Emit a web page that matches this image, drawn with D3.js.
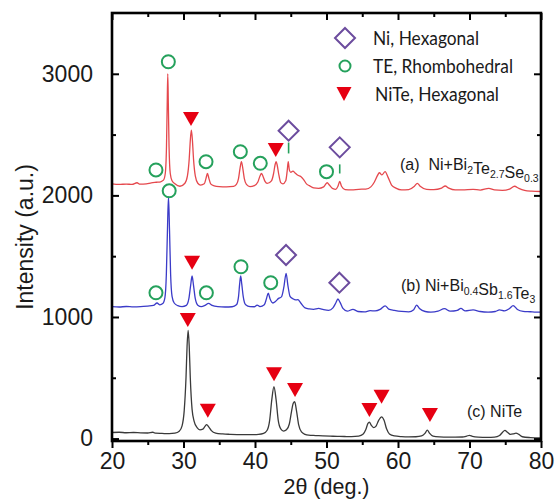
<!DOCTYPE html>
<html>
<head>
<meta charset="utf-8">
<script src="https://cdn.jsdelivr.net/npm/d3@7"></script>
<style>
  html, body { margin: 0; padding: 0; background: #fff; }
  svg { display: block; }
  text { font-family: Arial, "Liberation Sans", sans-serif; fill: #1a1a1a; }
  .legend text { font-family: Lato, "Open Sans", sans-serif; }
</style>
</head>
<body>
<svg id="chart" width="556" height="504"></svg>
<script>
// XRD patterns, intensity (a.u.) vs 2θ (deg.)
const curveA = [ // (a) Ni+Bi2Te2.7Se0.3, red
  [20,2095],[21,2090],[22,2093],[22.8,2090],[23.5,2104],[23.9,2092],[24.8,2095],[25.5,2103],[26.2,2108],[26.8,2112],
  [27.2,2125],[27.45,2180],[27.62,2400],[27.72,2750],[27.8,3000],[27.88,2750],[27.98,2400],[28.15,2180],[28.4,2120],[28.8,2095],
  [29.5,2075],[30.2,2100],[30.55,2160],[30.8,2300],[30.95,2450],[31.1,2537],[31.25,2450],[31.4,2300],[31.65,2160],[32.0,2100],
  [32.4,2085],[32.9,2095],[33.15,2140],[33.35,2181],[33.55,2140],[33.8,2095],[34.3,2078],[35,2072],[36,2070],[37,2074],
  [37.4,2090],[37.7,2140],[37.9,2220],[38.1,2277],[38.3,2220],[38.5,2140],[38.8,2090],[39.3,2072],[39.9,2080],[40.4,2110],
  [40.7,2160],[40.9,2181],[41.1,2160],[41.4,2115],[41.7,2098],[42.3,2120],[42.6,2180],[42.8,2250],[42.95,2277],[43.1,2250],
  [43.3,2180],[43.6,2105],[43.9,2095],[44.3,2120],[44.5,2200],[44.65,2277],[44.8,2210],[45.0,2190],[45.3,2200],[45.6,2185],
  [46.0,2165],[46.4,2155],[46.8,2130],[47.2,2095],[47.6,2080],[48.2,2062],[48.9,2058],[49.6,2070],[49.8,2085],[50.1,2104],
  [50.4,2085],[50.9,2055],[51.3,2050],[51.6,2075],[51.85,2115],[52.1,2075],[52.6,2048],[53.5,2046],[54.5,2050],[55.5,2052],
  [56.2,2070],[56.7,2110],[57.1,2160],[57.4,2186],[57.75,2168],[58.2,2196],[58.6,2150],[59.1,2085],[59.7,2060],[60.5,2045],
  [61.5,2048],[62.3,2075],[62.7,2099],[63.1,2075],[64.0,2050],[65.0,2048],[66.1,2060],[66.6,2077],[67.1,2060],[68.0,2045],
  [69.0,2045],[70.5,2050],[71.5,2044],[72.7,2058],[73.5,2045],[74.6,2042],[75.6,2052],[76.3,2075],[76.9,2058],[77.7,2042],
  [78.7,2035],[80,2032]
];
const curveB = [ // (b) Ni+Bi0.4Sb1.6Te3, blue
  [20,1085],[21,1082],[22,1086],[23,1083],[24,1085],[25,1090],[25.8,1095],[26.3,1115],[26.7,1100],[27.1,1110],
  [27.4,1160],[27.6,1350],[27.75,1700],[27.9,1990],[28.05,1700],[28.2,1350],[28.4,1170],[28.7,1115],[29.2,1093],[29.8,1085],
  [30.4,1095],[30.75,1150],[31.0,1260],[31.2,1337],[31.4,1260],[31.65,1150],[32.0,1097],[32.5,1085],[33.0,1095],[33.5,1112],
  [34.0,1095],[34.8,1085],[35.8,1082],[36.8,1084],[37.4,1100],[37.7,1170],[37.85,1270],[38.0,1337],[38.15,1270],[38.35,1170],
  [38.7,1100],[39.3,1085],[39.9,1084],[40.3,1098],[40.7,1085],[41.3,1100],[41.6,1150],[41.85,1195],[42.1,1150],[42.5,1115],
  [42.9,1130],[43.3,1153],[43.7,1165],[44.05,1250],[44.35,1359],[44.6,1260],[44.9,1170],[45.3,1150],[45.7,1140],[46.0,1142],
  [46.4,1115],[47.0,1075],[47.6,1066],[48.2,1063],[48.9,1070],[49.6,1060],[50.3,1055],[50.9,1075],[51.3,1115],[51.6,1148],
  [51.9,1120],[52.3,1070],[52.9,1048],[53.7,1063],[54.4,1045],[55.3,1042],[56.1,1052],[56.8,1050],[57.5,1062],[58.2,1092],
  [58.7,1065],[59.5,1055],[60.5,1046],[61.5,1042],[62.2,1060],[62.6,1098],[63.0,1070],[63.8,1045],[64.6,1040],[65.6,1048],
  [66.5,1068],[67.3,1048],[68.3,1055],[68.8,1070],[69.4,1050],[70.5,1058],[71.5,1045],[72.6,1040],[73.6,1045],[74.2,1058],
  [74.9,1050],[75.6,1070],[76.1,1093],[76.7,1062],[77.5,1046],[78.5,1043],[79.3,1040],[80,1040]
];
const curveC = [ // (c) NiTe, black
  [20,50],[21,52],[22,48],[23,50],[24,47],[25,46],[25.7,52],[26.1,44],[27,42],[28,40],
  [28.8,44],[29.4,60],[29.8,105],[30.1,230],[30.35,500],[30.5,760],[30.65,890],[30.8,760],[30.95,500],[31.2,240],
  [31.5,140],[31.9,90],[32.3,72],[32.7,78],[33.0,100],[33.25,115],[33.5,98],[33.9,65],[34.5,45],[35.5,38],
  [36.5,35],[37.5,33],[38.5,32],[39.5,32],[40.5,34],[41.2,42],[41.7,68],[42.05,150],[42.35,320],[42.65,426],
  [42.95,320],[43.25,150],[43.6,80],[44.0,62],[44.4,72],[44.8,120],[45.1,220],[45.35,290],[45.55,303],[45.8,230],
  [46.1,115],[46.5,55],[47.0,35],[47.5,28],[48.5,25],[49.5,22],[50.5,20],[51.5,18],[52.5,17],[53.5,16],
  [54.5,20],[55.1,35],[55.5,75],[55.8,125],[56.0,135],[56.25,110],[56.6,90],[56.9,100],[57.3,150],[57.7,178],
  [58.05,150],[58.4,80],[58.8,38],[59.5,22],[60.5,16],[61.5,14],[62.5,15],[63.3,22],[63.8,45],[64.1,70],
  [64.4,45],[64.9,20],[65.8,14],[67,12],[68,12],[69,13],[69.6,20],[70.0,27],[70.4,19],[71.2,12],
  [72.5,10],[73.5,12],[74.2,25],[74.6,50],[74.95,68],[75.3,52],[75.7,35],[76.1,38],[76.5,45],[76.9,35],
  [77.4,15],[78.5,8],[79.3,6],[80,5]
];

// Phase markers [2θ, intensity]
const teMarks   = [[26.15,2209],[27.88,3099],[33.15,2277],[37.95,2359],[40.74,2264],[50.0,2195],
                   [26.15,1199],[28.0,2038],[33.2,1199],[38.04,1413],[42.2,1282]];
const niMarks   = [[44.7,2532],[51.85,2395],[44.34,1510],[51.8,1282]];
const niteMarks = [[31.05,2628],[42.9,2373],[31.2,1446],
                   [30.6,975],[33.4,229],[42.66,528],[45.6,399],[56.0,235],[57.7,344],[64.47,194]];
const niBars    = [[44.7,2345,2435],[51.85,2180,2255]]; // [2θ, from, to]

const xMajor = [20,30,40,50,60,70,80];
const xMinor = [25,35,45,55,65,75];
const yMajor = [0,1000,2000,3000];
const yMinor = [500,1500,2500];

const legendItems = [
  {kind:"diamond",  label:"Ni, Hexagonal"},
  {kind:"circle",   label:"TE, Rhombohedral"},
  {kind:"triangle", label:"NiTe, Hexagonal"}
];

const colors = {a:"#e5484d", b:"#3b3bc8", c:"#3a3a3a", te:"#25a15c", ni:"#6c4c9e", nite:"#e60012"};

const svg = d3.select("#chart");
const L = 112, R = 541, T = 13, B = 441;
const x = d3.scaleLinear().domain([20,80]).range([L,R]);
const y = d3.scaleLinear().domain([-20,3500]).range([B,T]);

// curves
const line = d3.line().x(d => x(d[0])).y(d => y(d[1])).curve(d3.curveMonotoneX);
[[curveA,colors.a],[curveB,colors.b],[curveC,colors.c]].forEach(([data,col]) => {
  svg.append("path").datum(data).attr("d", line)
    .attr("fill","none").attr("stroke",col).attr("stroke-width",1.3).attr("stroke-linejoin","round");
});

// axes
function styleAxis(g){
  g.select(".domain").remove();
  g.selectAll(".tick line").attr("stroke","#000").attr("stroke-width",2);
  g.selectAll(".tick text").attr("font-size",23).attr("fill","#1a1a1a")
    .attr("font-family","Arial, 'Liberation Sans', sans-serif");
}
svg.append("g").attr("transform",`translate(0,${B})`)
  .call(d3.axisBottom(x).tickValues(xMajor).tickSize(7).tickPadding(5).tickFormat(d3.format("d")))
  .call(styleAxis);
svg.append("g").attr("transform",`translate(0,${B})`)
  .call(d3.axisBottom(x).tickValues(xMinor).tickSize(4).tickFormat(""))
  .call(styleAxis);
svg.append("g").attr("transform",`translate(0,${T})`)
  .call(d3.axisTop(x).tickValues(xMajor).tickSize(-7).tickFormat(""))
  .call(styleAxis);
svg.append("g").attr("transform",`translate(0,${T})`)
  .call(d3.axisTop(x).tickValues(xMinor).tickSize(-4).tickFormat(""))
  .call(styleAxis);
svg.append("g").attr("transform",`translate(${L},0)`)
  .call(d3.axisLeft(y).tickValues(yMajor).tickSize(-7).tickPadding(19).tickFormat(d3.format("d")))
  .call(styleAxis);
svg.append("g").attr("transform",`translate(${L},0)`)
  .call(d3.axisLeft(y).tickValues(yMinor).tickSize(-4).tickFormat(""))
  .call(styleAxis);
svg.append("g").attr("transform",`translate(${R},0)`)
  .call(d3.axisRight(y).tickValues(yMajor).tickSize(-7).tickFormat(""))
  .call(styleAxis);
svg.append("g").attr("transform",`translate(${R},0)`)
  .call(d3.axisRight(y).tickValues(yMinor).tickSize(-4).tickFormat(""))
  .call(styleAxis);

svg.append("rect").attr("x",L).attr("y",T).attr("width",R-L).attr("height",B-T)
  .attr("fill","none").attr("stroke","#000").attr("stroke-width",2.6);

// axis titles
svg.append("text").attr("x",(L+R)/2).attr("y",494).attr("text-anchor","middle")
  .attr("font-size",21.5).text("2θ (deg.)");
svg.append("text").attr("transform","translate(33,237) rotate(-90)").attr("text-anchor","middle")
  .attr("font-size",23).text("Intensity (a.u.)");

// marker shapes
const diamondPath = s => `M0,${-s}L${s},0L0,${s}L${-s},0Z`;
const triPath = (w,h) => `M${-w/2},${-h/2}L${w/2},${-h/2}L0,${h/2}Z`;

svg.append("g").selectAll("line").data(niBars).join("line")
  .attr("x1",d=>x(d[0])).attr("x2",d=>x(d[0])).attr("y1",d=>y(d[1])).attr("y2",d=>y(d[2]))
  .attr("stroke",colors.te).attr("stroke-width",1.6);

svg.append("g").selectAll("circle").data(teMarks).join("circle")
  .attr("cx",d=>x(d[0])).attr("cy",d=>y(d[1])).attr("r",6.5)
  .attr("fill","none").attr("stroke",colors.te).attr("stroke-width",2);

svg.append("g").selectAll("path").data(niMarks).join("path")
  .attr("transform",d=>`translate(${x(d[0])},${y(d[1])})`).attr("d",diamondPath(10))
  .attr("fill","none").attr("stroke",colors.ni).attr("stroke-width",2);

svg.append("g").selectAll("path").data(niteMarks).join("path")
  .attr("transform",d=>`translate(${x(d[0])},${y(d[1])})`).attr("d",triPath(16,14))
  .attr("fill",colors.nite);

// sample labels
function label(xp, yp, parts){
  const t = svg.append("text").attr("x",xp).attr("y",yp).attr("font-size",16);
  parts.forEach(([s,sub]) => {
    if (sub) {
      t.append("tspan").attr("font-size",10.5).attr("dy",4).text(s);
      t.append("tspan").attr("dy",-4).text("");
    } else {
      t.append("tspan").text(s);
    }
  });
}
label(400,170,[["(a)\u00a0\u00a0Ni+Bi"],["2",1],["Te"],["2.7",1],["Se"],["0.3",1]]);
label(401,291,[["(b) Ni+Bi"],["0.4",1],["Sb"],["1.6",1],["Te"],["3",1]]);
label(467,417,[["(c) NiTe"]]);

// legend
const lg = svg.append("g").attr("class","legend");
const lgRows = [38,66,94];
const lgWidths = [106,140,124];
legendItems.forEach((it,i) => {
  const cy = lgRows[i];
  if (it.kind === "diamond")
    lg.append("path").attr("transform",`translate(345,${cy})`).attr("d",diamondPath(10))
      .attr("fill","none").attr("stroke",colors.ni).attr("stroke-width",2);
  else if (it.kind === "circle")
    lg.append("circle").attr("cx",345).attr("cy",cy).attr("r",5.5)
      .attr("fill","none").attr("stroke",colors.te).attr("stroke-width",2);
  else
    lg.append("path").attr("transform",`translate(344,${cy})`).attr("d",triPath(15,14))
      .attr("fill",colors.nite);
  lg.append("text").attr("x", i===2 ? 375 : 373).attr("y",cy+7).attr("font-size",19.5)
    .attr("textLength",lgWidths[i]).attr("lengthAdjust","spacingAndGlyphs").text(it.label);
});
</script>
</body>
</html>
